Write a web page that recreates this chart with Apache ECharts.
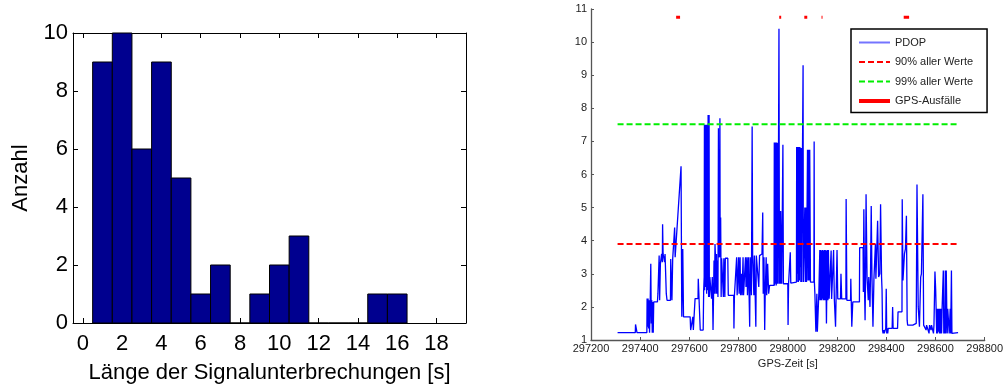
<!DOCTYPE html>
<html>
<head>
<meta charset="utf-8">
<script src="https://cdn.jsdelivr.net/npm/echarts@6/dist/echarts.min.js"></script>
<style>
  html, body { margin: 0; padding: 0; background: #fff; }
  #chart { width: 1006px; height: 389px; }
</style>
</head>
<body>
<div id="chart"></div>
<script>
// ---- Histogram: length of signal interruptions ----
const gapLength = [1, 2, 3, 4, 5, 6, 7, 8, 9, 10, 11, 12, 13, 14, 15, 16];
const gapCount  = [9, 10, 6, 9, 5, 1, 2, 0, 1, 2, 3, 0, 0, 0, 1, 1];
const histXTicks = [0, 2, 4, 6, 8, 10, 12, 14, 16, 18];
const binWidth = 1;

// ---- PDOP over GPS time [s], value ----
const pdopSeries = [
  [297308,1.22],[297380,1.22],[297381,1.47],[297386,1.47],[297387,1.22],[297427,1.22],
  [297428,2.25],[297430,1.4],[297432,2.25],[297434,1.35],[297436,2.2],[297438,1.22],[297441,2.3],[297443,3.3],[297445,1.5],[297447,2.2],[297449,1.22],[297451,2.15],[297453,1.22],[297455,2.15],[297470,2.15],[297472,2.4],[297476,2.4],[297477,3.55],[297479,2.2],[297482,3.3],[297485,3.3],[297487,3.6],[297490,3.35],[297491,4.5],[297493,3.6],[297498,3.6],[297499,3.35],[297501,3.6],[297505,3.6],[297506,2.4],[297509,2.2],[297523,2.2],[297524,3.45],[297528,3.45],[297529,2.2],[297532,3.45],[297539,3.45],[297540,4.4],[297542,3.5],[297547,3.5],[297566,6.25],[297569,1.7],[297572,1.7],[297573,3.75],[297575,3.75],[297576,1.7],[297603,1.7],[297605,1.3],[297613,1.3],[297614,1.7],[297616,1.3],[297622,1.3],[297623,2.25],[297635,2.25],[297636,2.85],[297643,2.85],[297644,1.3],[297656,1.3],
  [297658,2.5],[297660,2.9],[297661,7.5],[297662,2.5],[297663,7.5],[297664,3.0],[297665,7.5],[297666,2.6],[297667,7.5],[297668,4.0],[297669,7.5],[297670,2.4],[297671,7.5],[297672,7.5],[297673,2.5],[297675,2.9],[297676,7.8],[297677,7.8],[297678,2.3],[297680,7.8],[297681,2.3],[297683,2.9],[297686,2.9],[297690,2.25],[297693,2.9],[297696,1.3],[297698,2.3],[297700,3.4],[297702,2.4],[297704,3.9],[297706,3.5],[297708,2.4],[297710,3.6],[297712,2.4],[297714,3.4],[297716,2.3],[297718,7.4],[297719,3.6],[297722,3.5],[297724,7.7],[297725,3.5],[297727,4.7],[297729,2.3],[297731,3.47],[297737,3.47],[297738,2.3],[297740,3.47],[297743,3.47],[297744,2.3],[297746,3.47],[297756,3.47],[297758,2.35],[297780,2.35],[297781,1.35],[297783,2.35],[297790,2.35],
  [297792,3.5],[297794,2.35],[297800,3.5],[297802,2.4],[297806,3.5],[297808,2.35],[297812,3.0],[297814,2.35],[297818,3.5],[297820,2.35],[297826,2.35],[297828,3.5],[297830,2.6],[297834,3.5],[297836,2.35],[297840,3.5],[297842,2.6],[297845,1.4],[297847,3.5],[297850,3.5],[297852,2.35],[297855,7.45],[297857,3.55],[297862,2.35],[297864,3.55],[297868,3.55],[297870,1.4],[297872,3.55],[297880,3.55],[297882,2.6],[297885,3.55],[297895,3.6],[297898,4.85],[297900,2.4],[297903,3.5],[297906,1.3],[297908,2.35],[297912,3.5],[297914,2.35],[297918,3.3],[297922,2.4],[297926,2.65],[297944,2.65],
  [297945,6.97],[297946,2.65],[297947,6.97],[297948,2.7],[297949,6.97],[297950,3.0],[297951,6.97],[297952,6.97],[297953,2.65],[297955,6.97],[297956,2.7],[297958,2.7],[297959,6.95],[297960,2.7],[297963,2.7],[297964,10.4],[297966,2.7],[297968,4.9],[297970,2.7],[297971,4.9],[297974,4.9],[297975,2.7],[297979,2.7],[297980,6.9],[297982,2.7],[298000,2.7],[298001,1.45],[298003,2.7],[298009,2.7],[298010,3.65],[298012,2.72],[298035,2.75],
  [298036,6.83],[298037,2.75],[298039,6.83],[298040,3.0],[298042,6.83],[298043,2.75],[298045,6.83],[298046,6.83],[298047,2.8],[298049,6.83],[298050,3.2],[298052,6.8],[298053,2.75],[298055,6.8],[298056,2.75],[298061,2.75],[298062,9.3],[298063,2.75],[298068,2.75],[298069,5.0],[298071,2.75],[298073,5.0],[298075,5.0],[298076,2.75],[298079,2.75],[298080,6.75],[298082,2.8],[298084,6.75],[298086,6.75],[298087,2.8],[298089,6.75],[298091,6.75],[298092,2.75],[298106,2.75],[298107,7.0],[298108,2.75],[298110,2.4],[298113,2.4],[298114,1.25],[298117,1.25],[298118,2.4],[298120,1.25],[298124,1.25],[298126,2.4],[298129,2.4],
  [298130,3.72],[298131,2.2],[298132,3.72],[298133,2.2],[298134,3.72],[298136,3.72],[298137,2.2],[298138,3.7],[298140,2.25],[298141,3.72],[298143,3.72],[298144,2.2],[298145,3.7],[298147,2.2],[298148,3.72],[298150,2.2],[298152,3.72],[298153,2.2],[298155,3.7],[298156,2.2],[298157,1.5],[298158,2.2],[298160,3.72],[298162,3.72],[298163,2.2],[298165,3.72],[298167,3.72],[298168,2.25],[298172,2.24],[298175,2.24],[298176,3.7],[298178,2.24],[298184,2.24],[298186,3.72],[298188,3.72],[298189,2.24],[298193,2.24],[298194,1.4],[298196,2.24],[298199,2.24],[298200,3.72],[298202,3.72],[298203,2.24],[298214,2.24],[298216,3.0],[298218,3.0],[298219,2.24],[298236,2.24],[298237,5.26],[298239,5.26],[298240,2.2],[298255,2.2],[298256,2.85],[298259,2.85],[298260,1.4],[298263,1.4],[298264,2.15],[298291,2.15],[298292,3.79],[298306,3.79],
  [298307,2.45],[298309,4.95],[298311,4.95],[298312,2.45],[298314,1.6],[298316,2.9],[298318,5.4],[298320,5.4],[298322,2.9],[298326,2.9],[298327,2.2],[298329,2.9],[298333,2.9],[298334,2.0],[298336,2.9],[298339,5.05],[298341,5.05],[298342,2.9],[298345,2.9],[298346,1.4],[298348,1.4],[298350,2.85],[298354,2.85],[298356,3.9],[298358,2.85],[298362,3.85],[298365,4.6],[298367,4.6],[298369,2.9],[298372,2.9],[298374,3.0],[298377,5.1],[298379,5.1],[298381,2.9],[298383,2.5],[298385,1.3],[298387,1.2],[298390,1.3],[298392,1.2],[298396,1.2],[298398,1.35],[298400,2.55],[298402,1.2],[298404,1.35],[298406,1.2],[298408,1.35],[298424,1.35],[298426,2.0],[298428,1.35],[298446,1.35],[298448,1.85],[298464,1.85],[298465,5.25],[298467,5.25],[298468,2.8],[298472,2.8],[298474,3.6],[298478,3.75],[298480,3.75],[298482,4.75],[298484,4.75],[298485,1.6],[298487,1.45],[298490,1.4],[298494,1.45],[298508,1.45],[298512,1.5],[298514,1.5],[298522,1.5],
  [298525,5.7],[298528,5.7],[298530,2.0],[298533,2.0],[298535,1.4],[298538,1.4],[298540,2.9],[298543,3.0],[298547,3.0],[298549,5.4],[298551,5.4],[298552,1.45],[298560,1.45],[298562,1.3],[298564,1.45],[298572,1.45],[298574,1.2],[298576,1.45],[298580,1.45],[298582,1.3],[298584,1.45],[298590,1.45],[298592,1.2],[298594,1.45],[298597,1.45],[298598,3.07],[298600,3.07],[298601,2.5],[298603,2.5],[298605,1.2],[298607,1.94],[298609,1.2],[298611,1.94],[298613,1.25],[298615,1.94],[298617,1.2],[298619,1.94],[298621,1.2],[298623,1.94],[298625,1.2],[298627,1.94],[298630,1.94],[298632,3.1],[298634,1.2],[298636,1.94],[298638,1.2],[298640,3.1],[298642,1.2],[298644,3.1],[298646,1.94],[298648,1.2],[298650,1.94],[298654,1.94],[298656,1.2],[298660,1.94],[298662,1.2],[298665,3.1],[298667,1.2],[298692,1.22]
];

// Percentile levels of all PDOP values
const pdop90 = 3.9;
const pdop99 = 7.52;

// GPS outages: [start, end] in GPS time [s], drawn at a fixed marker level
const outages = [[297546, 297562], [297965, 297973], [298067, 298079], [298137, 298141], [298372, 298373], [298471, 298493]];
const outageLevel = 10.75;

// ---- building the series data ----
const tStart = pdopSeries[0][0];
const tEnd = pdopSeries[pdopSeries.length - 1][0];
const line90 = [[tStart, pdop90], [tEnd, pdop90]];
const line99 = [[tStart, pdop99], [tEnd, pdop99]];
const outageData = [];
outages.forEach(function (o) {
  outageData.push([o[0], outageLevel], [o[1], outageLevel], [o[1], '-']);
});
const histData = gapLength.map(function (x, i) { return [x, gapCount[i]]; });

const FONT = "'Liberation Sans', Arial, sans-serif";

const histAxisCommon = {
  type: 'value', gridIndex: 0, min: -0.5, max: 19.5,
  axisLine: { onZero: false, lineStyle: { color: '#000', width: 1 } },
  axisTick: { inside: true, length: 5, customValues: histXTicks, lineStyle: { color: '#000' } },
  splitLine: { show: false }
};
const histYCommon = {
  type: 'value', gridIndex: 0, min: 0, max: 10, interval: 2,
  axisLine: { show: true, onZero: false, lineStyle: { color: '#000', width: 1 } },
  axisTick: { show: true, inside: true, length: 5, lineStyle: { color: '#000' } },
  splitLine: { show: false }
};

const chart = echarts.init(document.getElementById('chart'), null, { renderer: 'canvas' });
chart.setOption({
  animation: false,
  backgroundColor: '#fff',
  textStyle: { fontFamily: FONT },
  grid: [
    { left: 73, top: 33, width: 393, height: 292, containLabel: false },
    { left: 591, top: 9, width: 394, height: 331, containLabel: false }
  ],
  xAxis: [
    Object.assign({}, histAxisCommon, {
      position: 'bottom',
      name: 'Länge der Signalunterbrechungen [s]',
      nameLocation: 'middle', nameGap: 39,
      nameTextStyle: { fontSize: 22, color: '#000', fontFamily: FONT },
      axisLabel: { customValues: histXTicks, fontSize: 22, color: '#000', margin: 10, fontFamily: FONT }
    }),
    Object.assign({}, histAxisCommon, {
      position: 'top',
      axisLabel: { show: false }
    }),
    {
      type: 'value', gridIndex: 1, min: 297200, max: 298800, interval: 200,
      position: 'bottom',
      name: 'GPS-Zeit [s]', nameLocation: 'middle', nameGap: 16,
      nameTextStyle: { fontSize: 11, color: '#222', fontFamily: FONT },
      axisLine: { onZero: false, lineStyle: { color: '#555', width: 1.3 } },
      axisTick: { inside: true, length: 3, lineStyle: { color: '#555' } },
      axisLabel: { fontSize: 11, color: '#222', margin: 3, fontFamily: FONT,
                   showMinLabel: true, showMaxLabel: true,
                   formatter: function (v) { return String(v); } },
      splitLine: { show: false }
    }
  ],
  yAxis: [
    Object.assign({}, histYCommon, {
      position: 'left',
      name: 'Anzahl', nameLocation: 'middle', nameGap: 41, nameRotate: 90,
      nameTextStyle: { fontSize: 22, color: '#000', fontFamily: FONT },
      axisLabel: { fontSize: 22, color: '#000', margin: 5, fontFamily: FONT }
    }),
    Object.assign({}, histYCommon, {
      position: 'right',
      axisLabel: { show: false }
    }),
    {
      type: 'value', gridIndex: 1, min: 1, max: 11, interval: 1,
      position: 'left',
      axisLine: { show: true, onZero: false, lineStyle: { color: '#555', width: 1.3 } },
      axisTick: { show: true, inside: true, length: 3, lineStyle: { color: '#555' } },
      axisLabel: { fontSize: 11, color: '#222', margin: 4, fontFamily: FONT },
      splitLine: { show: false }
    }
  ],
  legend: {
    left: 851, top: 29,
    orient: 'vertical',
    itemWidth: 31, itemHeight: 12, itemGap: 8.5,
    padding: [8, 14, 6, 6],
    borderColor: '#000', borderWidth: 1.5, borderRadius: 0,
    backgroundColor: '#fff',
    itemStyle: { color: 'rgba(0,0,0,0)', borderWidth: 0, opacity: 0 },
    textStyle: { fontSize: 11, color: '#222', fontFamily: FONT },
    data: [
      { name: 'PDOP', lineStyle: { width: 2, color: '#7474ff' } },
      { name: '90% aller Werte', lineStyle: { width: 2 } },
      { name: '99% aller Werte', lineStyle: { width: 2 } },
      { name: 'GPS-Ausfälle', lineStyle: { width: 4 } }
    ]
  },
  series: [
    {
      type: 'custom',
      xAxisIndex: 0, yAxisIndex: 0,
      data: histData,
      encode: { x: 0, y: 1 },
      renderItem: function (params, api) {
        const x = api.value(0), n = api.value(1);
        const p0 = api.coord([x - binWidth / 2, n]);
        const p1 = api.coord([x + binWidth / 2, 0]);
        return {
          type: 'rect',
          shape: { x: p0[0], y: p0[1], width: p1[0] - p0[0], height: p1[1] - p0[1] },
          style: { fill: '#00008f', stroke: '#000', lineWidth: 1 }
        };
      }
    },
    {
      name: 'PDOP', type: 'line', xAxisIndex: 2, yAxisIndex: 2,
      data: pdopSeries, symbol: 'none', showSymbol: false,
      lineStyle: { color: '#0000ff', width: 1.3 },
      itemStyle: { color: '#0000ff' }
    },
    {
      name: '90% aller Werte', type: 'line', xAxisIndex: 2, yAxisIndex: 2,
      data: line90, symbol: 'none', showSymbol: false,
      lineStyle: { color: '#ff0000', width: 2, type: [6, 3] },
      itemStyle: { color: '#ff0000' }
    },
    {
      name: '99% aller Werte', type: 'line', xAxisIndex: 2, yAxisIndex: 2,
      data: line99, symbol: 'none', showSymbol: false,
      lineStyle: { color: '#00ee00', width: 2, type: [6, 3] },
      itemStyle: { color: '#00ee00' }
    },
    {
      name: 'GPS-Ausfälle', type: 'line', xAxisIndex: 2, yAxisIndex: 2,
      data: outageData, symbol: 'none', showSymbol: false, connectNulls: false,
      lineStyle: { color: '#ff0000', width: 3 },
      itemStyle: { color: '#ff0000' }
    }
  ]
});
</script>
</body>
</html>
